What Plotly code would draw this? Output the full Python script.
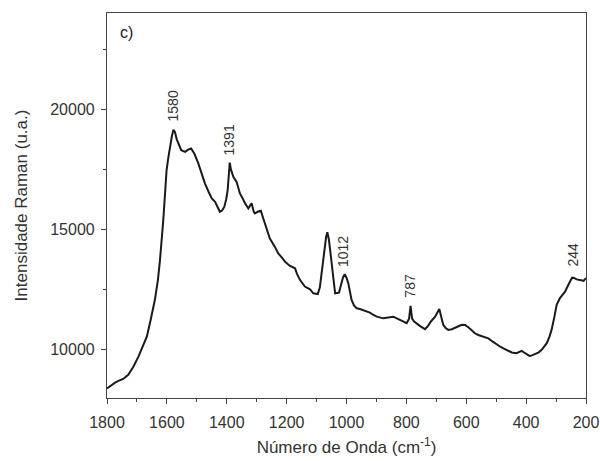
import numpy as np
import plotly.graph_objects as go

# Raman spectrum (wavenumber in cm-1, intensity in a.u.)
wavenumber = [1800, 1790, 1773, 1760, 1746, 1729, 1712, 1695, 1680, 1667, 1655, 1640, 1630, 1623,
              1612, 1606, 1601, 1595, 1590, 1583, 1578, 1573, 1567, 1562, 1552, 1539, 1529, 1519,
              1508, 1495, 1485, 1473, 1460, 1450, 1439, 1430, 1423, 1415, 1408, 1402, 1397, 1393,
              1390, 1386, 1378, 1367, 1356, 1345, 1339, 1328, 1320, 1317, 1310, 1306, 1295, 1286,
              1279, 1272, 1256, 1240, 1228, 1215, 1205, 1190, 1183, 1172, 1165, 1155, 1139, 1122,
              1111, 1096, 1089, 1085, 1079, 1074, 1068, 1064, 1059, 1052, 1045, 1038, 1025, 1018,
              1012, 1006, 1000, 994, 988, 983, 975, 966, 955, 944, 922, 910, 899, 877, 860, 844,
              830, 821, 799, 791, 786, 781, 774, 755, 738, 728, 718, 704, 695, 690, 685, 677, 668,
              660, 648, 638, 626, 615, 604, 593, 580, 571, 560, 545, 526, 510, 498, 485, 471, 460,
              448, 432, 420, 415, 408, 404, 395, 389, 380, 370, 358, 348, 340, 331, 322, 315, 306,
              298, 287, 278, 270, 263, 257, 250, 246, 240, 231, 222, 215, 208, 204, 200]
intensity = [8400, 8500, 8640, 8720, 8790, 8960, 9300, 9720, 10150, 10550, 11200, 12080, 12900, 13730,
             15390, 16500, 17470, 18000, 18430, 18900, 19150, 19050, 18750, 18570, 18300, 18230, 18320, 18370,
             18150, 17750, 17350, 16920, 16550, 16290, 16150, 15950, 15740, 15800, 15950, 16250, 16640, 17300,
             17780, 17500, 17190, 16980, 16500, 16250, 16090, 15880, 16050, 16090, 15750, 15670, 15750, 15780,
             15500, 15260, 14630, 14300, 14010, 13820, 13660, 13500, 13460, 13390, 13150, 12900, 12630, 12520,
             12350, 12320, 12600, 13040, 13600, 14150, 14700, 14890, 14600, 13870, 13000, 12350, 12380, 12700,
             13000, 13150, 13000, 12770, 12400, 12080, 11850, 11730, 11700, 11660, 11550, 11450, 11380, 11310, 11350, 11380,
             11300, 11250, 11110, 11300, 11830, 11300, 11180, 11000, 10860, 10990, 11180, 11380, 11600, 11700, 11450, 11040, 10900,
             10830, 10860, 10900, 10980, 11040, 11030, 10940, 10800, 10690, 10620, 10560, 10480, 10330, 10210, 10120, 10030, 9950,
             9890, 9860, 9930, 9960, 9900, 9860, 9780, 9750, 9770, 9830, 9900, 10000, 10120, 10280, 10550, 10830, 11350,
             11870, 12150, 12300, 12420, 12600, 12770, 12920, 13000, 12990, 12930, 12900, 12880, 12870, 12930, 12980]

# Peak labels
peak_labels = [1580, 1391, 1012, 787, 244]

FONT = "Arial"
TXT = "#333333"

fig = go.Figure()
fig.add_trace(go.Scatter(x=wavenumber, y=intensity, mode="lines",
                         line=dict(color="#1a1a1a", width=2), showlegend=False))

xs = np.array(wavenumber[::-1])
ys = np.array(intensity[::-1])
for p in peak_labels:
    yp = float(np.interp(p, xs, ys))
    fig.add_annotation(x=p, y=yp, text=str(p), showarrow=False, textangle=-90,
                       xanchor="center", yanchor="bottom", yshift=9,
                       font=dict(family=FONT, size=14, color=TXT))

fig.add_annotation(xref="paper", yref="paper", x=0.022, y=0.95, text="c)", showarrow=False,
                   xanchor="left", yanchor="middle", font=dict(family=FONT, size=16, color="#222"))

axis_style = dict(showgrid=False, zeroline=False, showline=True, linecolor="#444", linewidth=1.2,
                  mirror=True, ticks="outside", ticklen=5, tickwidth=1.2, tickcolor="#444",
                  automargin=False, tickformat="d",
                  tickfont=dict(family=FONT, size=16, color=TXT),
                  title_font=dict(family=FONT, size=17, color=TXT))

fig.update_xaxes(range=[1800, 200], tickvals=[1800, 1600, 1400, 1200, 1000, 800, 600, 400, 200],
                 minor=dict(dtick=100, ticks="outside", ticklen=3, tickcolor="#444"),
                 ticklabelstandoff=5,
                 title_text="Número de Onda (cm<sup>-1</sup>)", title_standoff=10, **axis_style)
fig.update_yaxes(range=[8000, 24000], tickvals=[10000, 15000, 20000],
                 minor=dict(tickvals=[12500, 17500, 22500], ticks="outside", ticklen=3, tickcolor="#444"),
                 ticklabelstandoff=3,
                 title_text="Intensidade Raman (u.a.)", title_standoff=18, **axis_style)

fig.update_layout(width=600, height=461, margin=dict(l=107, r=14, t=13, b=63),
                  plot_bgcolor="white", paper_bgcolor="white")

fig.write_html("out.html", config={"displayModeBar": False},
               post_script="document.body.style.margin='0';")
